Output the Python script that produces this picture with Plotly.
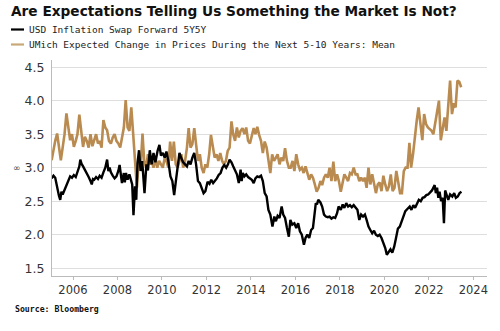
import plotly.graph_objects as go

# --- USD Inflation Swap Forward 5Y5Y (irregular observation dates) ---
swap_dates = [
    "2005-01-15", "2005-02-15", "2005-03-15", "2005-04-15", "2005-05-15", "2005-06-05",
    "2005-06-25", "2005-07-15", "2005-08-15", "2005-09-15", "2005-10-15", "2005-11-15",
    "2005-12-15", "2006-01-15", "2006-02-15", "2006-03-15", "2006-04-15", "2006-05-01",
    "2006-05-20", "2006-06-15", "2006-07-15", "2006-08-15", "2006-09-15", "2006-10-15",
    "2006-11-05", "2006-11-25", "2006-12-15", "2007-01-15", "2007-02-15", "2007-03-15",
    "2007-04-15", "2007-05-15", "2007-06-15", "2007-07-15", "2007-08-05", "2007-08-25",
    "2007-09-15", "2007-10-15", "2007-11-15", "2007-12-15", "2008-01-15", "2008-02-05",
    "2008-02-25", "2008-03-15", "2008-04-15", "2008-05-01", "2008-05-20", "2008-06-15",
    "2008-07-15", "2008-08-15", "2008-08-30", "2008-09-20", "2008-10-15", "2008-11-05",
    "2008-11-25", "2008-12-20", "2009-01-15", "2009-02-10", "2009-03-20", "2009-04-20",
    "2009-05-15", "2009-06-15", "2009-07-15", "2009-08-15", "2009-09-15", "2009-10-20",
    "2009-11-20", "2009-12-15", "2010-01-15", "2010-02-15", "2010-03-15", "2010-04-15",
    "2010-05-20", "2010-06-20", "2010-07-20", "2010-08-20", "2010-09-20", "2010-10-15",
    "2010-11-15", "2010-12-15", "2011-01-15", "2011-02-15", "2011-03-15", "2011-04-15",
    "2011-05-15", "2011-06-15", "2011-07-15", "2011-08-15", "2011-09-15", "2011-10-15",
    "2011-11-15", "2011-12-15", "2012-01-20", "2012-02-20", "2012-03-20", "2012-04-20",
    "2012-05-20", "2012-06-20", "2012-07-20", "2012-08-20", "2012-09-20", "2012-10-20",
    "2012-11-20", "2012-12-20", "2013-01-15", "2013-02-15", "2013-03-15", "2013-04-15",
    "2013-05-15", "2013-06-15", "2013-07-15", "2013-08-01", "2013-08-20", "2013-09-15",
    "2013-10-15", "2013-11-15", "2013-12-15", "2014-01-15", "2014-02-15", "2014-03-15",
    "2014-04-15", "2014-05-15", "2014-06-15", "2014-07-15", "2014-08-15", "2014-09-15",
    "2014-10-15", "2014-11-15", "2014-12-20", "2015-01-20", "2015-02-15", "2015-03-15",
    "2015-04-15", "2015-05-20", "2015-06-15", "2015-07-15", "2015-08-15", "2015-09-15",
    "2015-10-10", "2015-11-10", "2015-12-15", "2016-01-15", "2016-02-15", "2016-03-15",
    "2016-04-15", "2016-05-20", "2016-06-15", "2016-07-15", "2016-08-15", "2016-09-15",
    "2016-10-15", "2016-12-01", "2016-12-20", "2017-01-10", "2017-02-15", "2017-03-15",
    "2017-04-15", "2017-05-15", "2017-06-15", "2017-07-15", "2017-08-15", "2017-09-15",
    "2017-10-15", "2017-11-15", "2017-12-10", "2018-01-15", "2018-02-15", "2018-03-15",
    "2018-04-15", "2018-05-15", "2018-06-15", "2018-07-15", "2018-08-15", "2018-09-15",
    "2018-10-15", "2018-11-15", "2018-12-15", "2019-01-15", "2019-02-15", "2019-03-15",
    "2019-04-15", "2019-05-15", "2019-06-15", "2019-07-15", "2019-08-15", "2019-09-15",
    "2019-10-15", "2019-11-15", "2019-12-15", "2020-01-15", "2020-02-10", "2020-03-10",
    "2020-04-10", "2020-05-10", "2020-06-10", "2020-07-10", "2020-08-10", "2020-09-10",
    "2020-10-10", "2020-11-10", "2020-12-10", "2021-01-20", "2021-02-20", "2021-03-20",
    "2021-04-20", "2021-05-20", "2021-06-20", "2021-07-20", "2021-08-20", "2021-09-20",
    "2021-10-20", "2021-11-20", "2021-12-20", "2022-01-20", "2022-02-20", "2022-04-05",
    "2022-04-25", "2022-05-15", "2022-06-05", "2022-06-25", "2022-07-20", "2022-08-15",
    "2022-09-05", "2022-09-25", "2022-10-20", "2022-11-15", "2022-12-15", "2023-01-20",
    "2023-02-20", "2023-03-20", "2023-04-20", "2023-05-20", "2023-06-20",
]
swap_values = [
    2.84, 2.88, 2.85, 2.70, 2.58, 2.52,
    2.64, 2.60, 2.67, 2.74, 2.82, 2.87,
    2.85, 2.89, 2.86, 2.93, 3.02, 3.12,
    3.06, 3.02, 2.97, 2.93, 2.86, 2.80,
    2.75, 2.83, 2.82, 2.86, 2.83, 2.88,
    2.85, 2.93, 3.00, 3.12, 2.95, 3.00,
    2.93, 2.88, 2.84, 2.87, 2.95, 3.04,
    2.90, 2.77, 2.92, 2.78, 2.92, 2.82,
    2.90, 2.78, 2.75, 2.29, 2.72, 2.52,
    3.07, 3.26, 2.95, 3.10, 2.62, 3.05,
    2.96, 3.26, 3.05, 3.22, 3.08, 3.25,
    3.34, 3.18, 3.22, 3.15, 3.24, 3.10,
    2.87, 2.80, 2.59, 2.82, 3.05, 3.22,
    3.14, 3.08, 3.05, 3.02, 3.10, 3.05,
    3.15, 3.22, 3.05, 2.80, 2.77, 2.68,
    2.62, 2.65, 2.79, 2.76, 2.82, 2.77,
    2.80, 2.84, 2.89, 2.92, 3.00, 3.04,
    3.00, 3.05, 3.12, 3.08, 3.02, 2.97,
    2.90, 2.77, 2.97, 2.80, 2.92, 2.87,
    2.90, 2.86, 2.84, 2.82, 2.77, 2.84,
    2.87, 2.86, 2.88, 2.80, 2.62, 2.57,
    2.37, 2.30, 2.12, 2.27, 2.20, 2.28,
    2.25, 2.42, 2.30, 2.25, 2.10, 1.97,
    2.22, 2.15, 2.17, 2.10, 2.17, 2.05,
    2.00, 1.85, 1.95, 2.00, 1.95, 2.07,
    2.10, 2.47, 2.45, 2.52, 2.48, 2.42,
    2.30, 2.27, 2.26, 2.27, 2.24, 2.26,
    2.25, 2.32, 2.42, 2.37, 2.45, 2.40,
    2.47, 2.42, 2.44, 2.41, 2.44, 2.40,
    2.37, 2.22, 2.30, 2.27, 2.30, 2.22,
    2.12, 2.07, 2.02, 2.06, 2.00, 1.98,
    2.00, 1.95, 1.88, 1.80, 1.70, 1.74,
    1.78, 1.73, 1.82, 1.95, 2.09, 2.12,
    2.20, 2.30, 2.35, 2.39, 2.42, 2.37,
    2.44, 2.40, 2.45, 2.52, 2.50, 2.55,
    2.56, 2.59, 2.60, 2.63, 2.66, 2.74,
    2.62, 2.70, 2.55, 2.64, 2.50, 2.55,
    2.17, 2.66, 2.60, 2.52, 2.60, 2.57,
    2.62, 2.55, 2.57, 2.62, 2.64,
]

# --- UMich expected change in prices, next 5-10 years, mean (monthly) ---
umich_2005 = [3.11, 3.30, 3.40, 3.51, 3.30, 3.11, 3.30, 3.50, 3.81, 3.60, 3.41, 3.50]
umich_2006 = [3.31, 3.40, 3.50, 3.79, 3.50, 3.31, 3.46, 3.40, 3.30, 3.50, 3.32, 3.40]
umich_2007 = [3.50, 3.36, 3.40, 3.30, 3.71, 3.60, 3.56, 3.40, 3.36, 3.45, 3.50, 3.40]
umich_2008 = [3.36, 3.30, 3.45, 3.60, 4.01, 3.60, 3.55, 3.90, 3.50, 3.10, 2.70, 3.09]
umich_2009 = [3.00, 3.51, 3.10, 3.00, 3.20, 3.05, 3.10, 3.00, 3.15, 3.00, 3.10, 3.05]
umich_2010 = [3.00, 3.15, 3.10, 3.00, 3.39, 3.10, 3.39, 3.05, 3.00, 3.10, 3.20, 3.00]
umich_2011 = [3.10, 3.30, 3.59, 3.30, 3.35, 3.59, 3.30, 3.10, 3.20, 3.00, 2.92, 3.05]
umich_2012 = [3.00, 3.20, 3.49, 3.30, 3.15, 3.20, 3.10, 3.22, 3.10, 3.05, 3.10, 3.25]
umich_2013 = [3.30, 3.69, 3.50, 3.40, 3.60, 3.45, 3.55, 3.59, 3.50, 3.60, 3.40, 3.36]
umich_2014 = [3.50, 3.59, 3.50, 3.61, 3.49, 3.40, 3.22, 3.39, 3.30, 3.10, 2.92, 3.20]
umich_2015 = [3.10, 3.15, 3.20, 3.05, 3.15, 3.10, 3.29, 3.10, 3.00, 3.00, 3.10, 2.95]
umich_2016 = [3.20, 3.05, 2.97, 3.00, 2.92, 3.02, 2.90, 2.82, 2.90, 2.85, 2.75, 2.64]
umich_2017 = [2.70, 2.80, 2.74, 2.85, 2.90, 2.85, 3.00, 2.80, 3.09, 2.80, 2.90, 2.80]
umich_2018 = [2.64, 2.80, 2.90, 2.85, 2.80, 2.92, 2.90, 3.00, 2.90, 2.90, 2.80, 2.85]
umich_2019 = [2.80, 2.85, 2.70, 3.00, 2.75, 2.90, 2.75, 2.62, 2.75, 2.78, 2.65, 2.88]
umich_2020 = [2.75, 2.65, 2.72, 2.90, 2.65, 2.70, 2.95, 2.80, 2.62, 2.62, 2.95, 3.00]
umich_2021 = [3.00, 3.37, 3.00, 3.20, 3.49, 3.70, 3.90, 3.60, 3.41, 3.80, 3.65, 3.60]
umich_2022 = [3.58, 3.55, 3.50, 3.65, 3.80, 4.00, 3.41, 3.60, 3.75, 3.55, 3.90, 4.30]
umich_2023 = [3.80, 3.96, 3.90, 4.30, 4.28, 4.20]

umich_by_year = {
    2005: umich_2005, 2006: umich_2006, 2007: umich_2007, 2008: umich_2008,
    2009: umich_2009, 2010: umich_2010, 2011: umich_2011, 2012: umich_2012,
    2013: umich_2013, 2014: umich_2014, 2015: umich_2015, 2016: umich_2016,
    2017: umich_2017, 2018: umich_2018, 2019: umich_2019, 2020: umich_2020,
    2021: umich_2021, 2022: umich_2022, 2023: umich_2023,
}
umich_dates, umich_values = [], []
for year, vals in umich_by_year.items():
    for m, v in enumerate(vals, start=1):
        umich_dates.append(f"{year}-{m:02d}-15")
        umich_values.append(v)

y_ticks = [1.5, 2.0, 2.5, 3.0, 3.5, 4.0, 4.5]
x_tick_years = list(range(2006, 2025, 2))

title_text = "Are Expectations Telling Us Something the Market Is Not?"
series_names = ["USD Inflation Swap Forward 5Y5Y",
                "UMich Expected Change in Prices During the Next 5-10 Years: Mean"]
source_text = "Source: Bloomberg"

BLACK = "#000000"
GOLD = "#B98B50"

fig = go.Figure()
fig.add_trace(go.Scatter(x=umich_dates, y=umich_values, mode="lines",
                         name=series_names[1], line=dict(color=GOLD, width=2.6)))
fig.add_trace(go.Scatter(x=swap_dates, y=swap_values, mode="lines",
                         name=series_names[0], line=dict(color=BLACK, width=2.4)))

# plot area geometry (pixels) used for placing header/footer items
W, H = 500, 331
L, R, T, B = 52, 13, 60, 55
pw, ph = W - L - R, H - T - B


def px(x):
    return (x - L) / pw


def py(y):
    return (H - B - y) / ph


mono = "DejaVu Sans Mono"
annotations = [
    dict(text=series_names[0], x=px(27), y=py(29.5), xref="paper", yref="paper",
         xanchor="left", yanchor="middle", showarrow=False,
         font=dict(family=mono, size=9.5, color="#222")),
    dict(text=series_names[1], x=px(27), y=py(44.5), xref="paper", yref="paper",
         xanchor="left", yanchor="middle", showarrow=False,
         font=dict(family=mono, size=9.5, color="#222")),
    dict(text=f"<b>{source_text}</b>", x=px(13), y=py(309), xref="paper", yref="paper",
         xanchor="left", yanchor="middle", showarrow=False,
         font=dict(family=mono, size=8.2, color="#111")),
    dict(text="∞", x=px(11), y=py(168), xref="paper", yref="paper",
         xanchor="left", yanchor="middle", showarrow=False,
         font=dict(family="DejaVu Sans", size=9, color="#444")),
]
shapes = [
    dict(type="line", xref="paper", yref="paper", x0=px(11), x1=px(24),
         y0=py(29.5), y1=py(29.5), line=dict(color=BLACK, width=2.2)),
    dict(type="line", xref="paper", yref="paper", x0=px(11), x1=px(24),
         y0=py(44.5), y1=py(44.5), line=dict(color="#C9A878", width=2.2)),
]

fig.update_layout(
    width=W, height=H,
    margin=dict(l=L, r=R, t=T, b=B),
    paper_bgcolor="white", plot_bgcolor="white",
    showlegend=False,
    title=dict(text=f"<b>{title_text}</b>", x=11 / W, xanchor="left",
               y=1 - 11.5 / H, yanchor="middle", yref="container",
               font=dict(family="DejaVu Sans", size=13.7, color="#111")),
    annotations=annotations,
    shapes=shapes,
    xaxis=dict(
        type="date",
        range=["2005-01-21", "2024-08-12"],
        tickvals=[f"{y}-01-01" for y in x_tick_years],
        ticktext=[str(y) for y in x_tick_years],
        ticks="outside", ticklen=3, tickcolor="#bbb",
        showgrid=False, showline=True, linecolor="#bbb", linewidth=1,
        tickfont=dict(family="DejaVu Sans", size=11.5, color="#333"),
        zeroline=False,
    ),
    yaxis=dict(
        range=[1.383, 4.607],
        tickvals=y_ticks,
        ticktext=[f"{v:.1f}" for v in y_ticks],
        showgrid=True, gridcolor="#dedede", gridwidth=1,
        showline=True, linecolor="#bbb", linewidth=1,
        ticks="", ticklabelstandoff=4,
        tickfont=dict(family="DejaVu Sans", size=12.5, color="#333"),
        zeroline=False,
    ),
)

fig.write_html("out.html")
